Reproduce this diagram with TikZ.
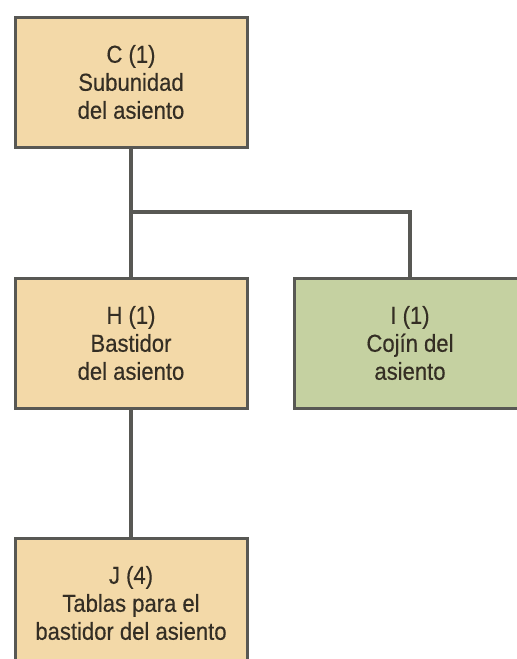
\documentclass[tikz,border=0pt]{standalone}
\usepackage{fontspec}
\setmainfont[FakeStretch=0.9,FakeBold=0.4]{Liberation Sans}
\definecolor{tan}{RGB}{243,217,168}
\definecolor{sage}{RGB}{197,209,161}
\definecolor{edge}{RGB}{88,88,84}
\definecolor{ink}{RGB}{52,46,36}
\begin{document}
\begin{tikzpicture}[x=1pt,y=-1pt,
  box/.style={draw=edge,line width=3pt,minimum width=232pt,minimum height=130pt,
    align=center,inner sep=0pt,text=ink,
    font=\fontsize{24.5}{28}\selectfont},
  part/.style={box,fill=tan},
  cushion/.style={box,fill=sage},
  link/.style={draw=edge,line width=3.4pt}]
\useasboundingbox (0,0) rectangle (517,659);
\clip (0,0) rectangle (517,659);
\node[part] (C) at (131,82) {C (1)\\Subunidad\\del asiento};
\node[part] (H) at (131,343) {H (1)\\Bastidor\\del asiento};
\node[cushion] (I) at (410,343) {I (1)\\Cojín del\\asiento};
\node[part] (J) at (131,603) {J (4)\\Tablas para el\\bastidor del asiento};
\coordinate (branch) at (131,212);
\path[link] (C.south) -- (H.north);
\path[link] (branch) -| (I.north);
\path[link] (H.south) -- (J.north);
\end{tikzpicture}
\end{document}
